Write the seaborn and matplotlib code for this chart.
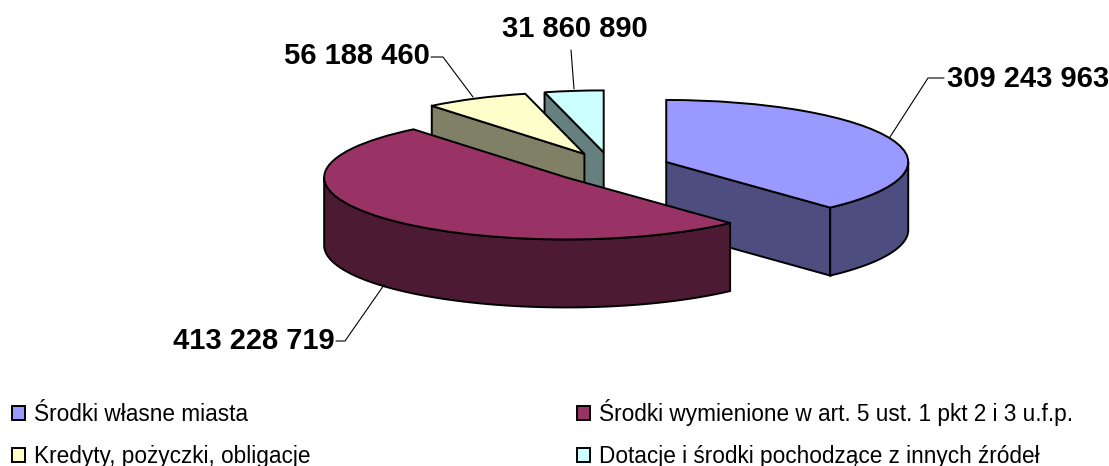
import numpy as np
import matplotlib
matplotlib.use('Agg')
import matplotlib.pyplot as plt
from matplotlib.patches import Patch, Polygon
import seaborn as sns

# dane
categories = ['Środki własne miasta', 'Środki wymienione w art. 5 ust. 1 pkt 2 i 3 u.f.p.',
              'Kredyty, pożyczki, obligacje', 'Dotacje i środki pochodzące z innych źródeł']
values = [309243963, 413228719, 56188460, 31860890]

top_colors = ['#9999FF', '#993366', '#FFFFCC', '#CCFFFF']
side_colors = ['#4D4D80', '#4D1A33', '#808066', '#668080']

sns.set_theme(style='white')
plt.rcParams['font.family'] = ['Liberation Sans', 'DejaVu Sans']

W, H = 1109, 466
RX, RY = 242, 62     # elipsa w pikselach
DEPTH = 68
stretch = RX / RY    # os y rozciagnieta, zeby kolo z pie wyszlo elipsa


def py(y):
    return (H - y) * stretch


fig = plt.figure(figsize=(W / 100, H / 100), dpi=100)
ax = fig.add_axes([0, 0, 1, 1])

wedges, _ = ax.pie(values, colors=sns.color_palette(top_colors), radius=RX,
                   center=(611, py(167.5)), explode=[0.245 * RX] * 4,
                   startangle=90, counterclock=False,
                   wedgeprops=dict(edgecolor='black', linewidth=1.4))
ax.set_aspect('auto')
ax.set_xlim(0, W)
ax.set_ylim(0, H * stretch)

# kolejnosc rysowania: od tylu do przodu
order = [2, 3, 1, 0]
dz = DEPTH * stretch


def extrude(points):
    points = np.asarray(points)
    return np.vstack([points, (points - [0, dz])[::-1]])


for i, w in enumerate(wedges):
    z = 3 * order[i] + 2
    w.set_zorder(z + 1)
    cx, cy = w.center
    t1, t2 = w.theta1, w.theta2
    faces = []
    # sciany ciecia widoczne tylko gdy normalna idzie w dol
    for t, n in ((t1, t1 - 90), (t2, t2 + 90)):
        if np.sin(np.radians(n)) < -1e-6:
            p = (cx + RX * np.cos(np.radians(t)), cy + RX * np.sin(np.radians(t)))
            faces.append([(cx, cy), p])
    th = np.radians(np.linspace(t1, t2, 300))
    th = th[np.sin(th) < 0]
    if len(th) > 1:
        faces.append(np.column_stack([cx + RX * np.cos(th), cy + RX * np.sin(th)]))
    for f in faces:
        ax.add_patch(Polygon(extrude(f), closed=True, facecolor=side_colors[i],
                             edgecolor='black', linewidth=1.4, zorder=z))

# warstwa w pikselach na opisy
over = fig.add_axes([0, 0, 1, 1], facecolor='none')
over.set_xlim(0, W)
over.set_ylim(H, 0)
over.axis('off')

label_pos = [(1109, 79, 'right'), (335, 341, 'right'), (430, 56, 'right'), (648, 29, 'right')]
leaders = [[(890, 137), (928, 78), (944, 78)],
           [(384, 285), (345, 341), (336, 341)],
           [(473, 97), (443, 57), (431, 57)],
           [(574, 89), (571, 50)]]

for v, (x, y, ha), line in zip(values, label_pos, leaders):
    over.text(x, y, f'{v:,}'.replace(',', ' '), ha=ha, va='center',
              fontsize=21, fontweight='bold', color='black')
    xs, ys = zip(*line)
    over.plot(xs, ys, color='black', linewidth=0.8)

# legenda: kolumnami
leg_order = [0, 2, 1, 3]
handles = [Patch(facecolor=top_colors[i], edgecolor='black', linewidth=1.4) for i in leg_order]
labels = [categories[i] for i in leg_order]
fig.legend(handles, labels, ncol=2, loc='lower left', bbox_to_anchor=(12 / W, -2 / H),
           fontsize=16.26, frameon=False, handlelength=0.58, handleheight=0.58,
           handletextpad=0.4, labelspacing=0.83, columnspacing=11.8,
           borderaxespad=0, borderpad=0, labelcolor='black')

fig.savefig('out.png', dpi=100)
